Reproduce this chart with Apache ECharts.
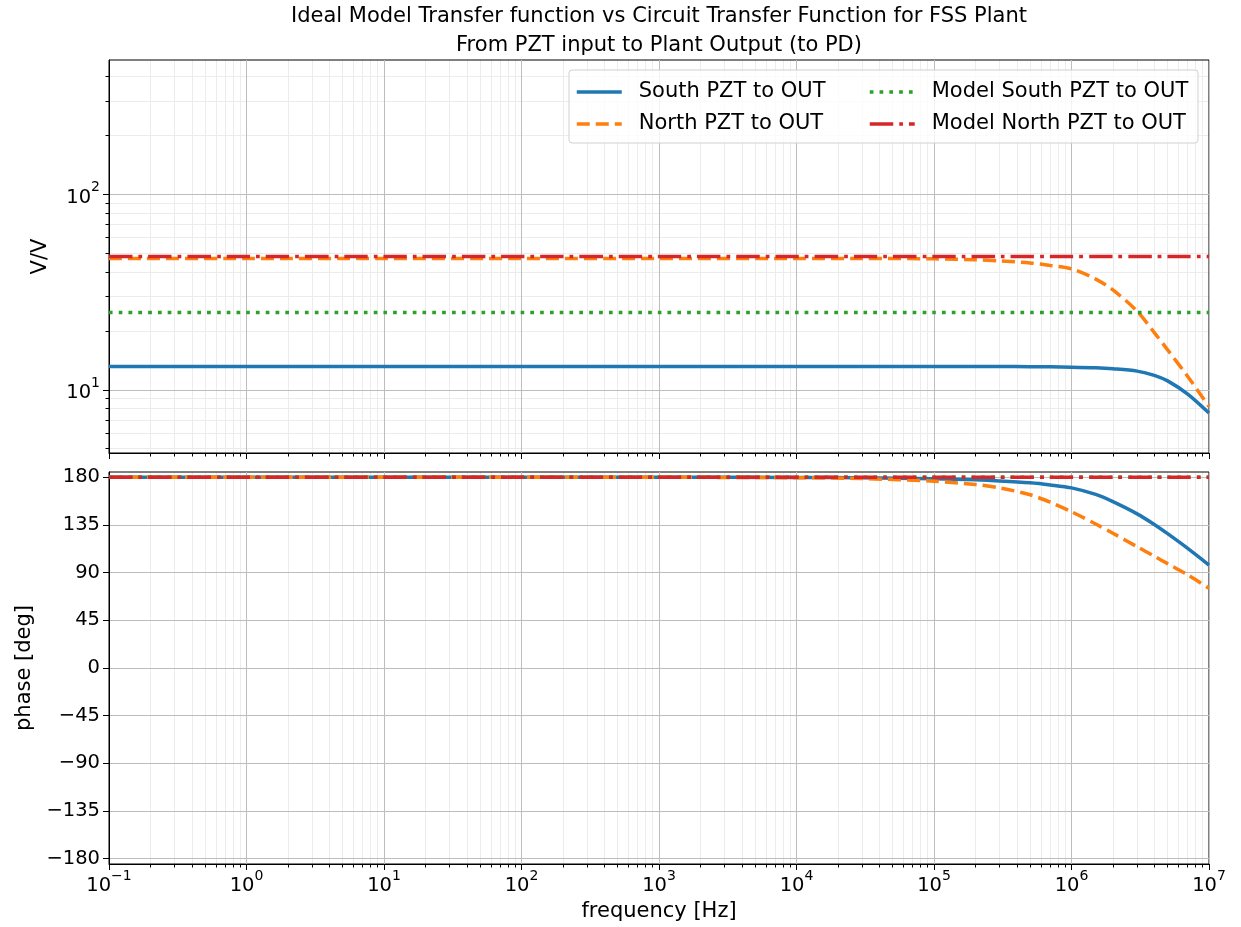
<!DOCTYPE html>
<html>
<head>
<meta charset="utf-8">
<script src="https://cdn.jsdelivr.net/npm/echarts@6/dist/echarts.min.js"></script>
<style>
html, body { margin: 0; padding: 0; background: #fff; }
#chart { width: 1241px; height: 927px; }
</style>
</head>
<body>
<div id="chart"></div>
<script>
// frequency points [Hz]
const freq = [0.1, 1, 10, 100, 1e3, 1e4, 3e4, 1e5, 2e5, 3e5, 5e5, 7e5, 1e6, 1.5e6, 2e6, 3e6, 4e6, 5e6, 7e6, 1e7]

// magnitude [V/V]
const southMag = [13.15, 13.15, 13.15, 13.15, 13.15, 13.15, 13.15, 13.15, 13.15, 13.14, 13.12, 13.1, 13.05, 12.95, 12.8, 12.45, 11.85, 11.1, 9.5, 7.6]
const northMag = [46.9, 46.9, 46.9, 46.9, 46.9, 46.9, 46.9, 46.7, 46.2, 45.6, 44.5, 43.2, 41.5, 36.8, 32.4, 25.2, 19.6, 16, 11.7, 8.2]
const modelSouthMag = [24.8, 24.8, 24.8, 24.8, 24.8, 24.8, 24.8, 24.8, 24.8, 24.8, 24.8, 24.8, 24.8, 24.8, 24.8, 24.8, 24.8, 24.8, 24.8, 24.8]
const modelNorthMag = [48, 48, 48, 48, 48, 48, 48, 48, 48, 48, 48, 48, 48, 48, 48, 48, 48, 48, 48, 48]

// phase [deg]
const southPhase = [180, 180, 180, 180, 180, 179.9, 179.6, 178.6, 177.6, 176.6, 174.8, 172.8, 170, 163.8, 157, 145.5, 135.5, 126.8, 112.9, 97.2]
const northPhase = [180, 180, 180, 180, 180, 179.6, 178.8, 176.3, 173.2, 170, 163.5, 156.5, 147.5, 135.9, 127.2, 114.5, 105.5, 98.5, 88, 75.2]
const modelSouthPhase = [180, 180, 180, 180, 180, 180, 180, 180, 180, 180, 180, 180, 180, 180, 180, 180, 180, 180, 180, 180]
const modelNorthPhase = [180, 180, 180, 180, 180, 180, 180, 180, 180, 180, 180, 180, 180, 180, 180, 180, 180, 180, 180, 180]

// tick values
const xMajor = [0.1, 1, 10, 100, 1e3, 1e4, 1e5, 1e6, 1e7]
const xMinor = []
for (let i = 0; i < xMajor.length - 1; i++) {
  for (let k = 2; k <= 9; k++) xMinor.push(xMajor[i] * k)
}
const magMajor = [10, 100]
const magMinor = [5, 6, 7, 8, 9, 20, 30, 40, 50, 60, 70, 80, 90, 200, 300, 400]
const phaseTicks = [-180, -135, -90, -45, 0, 45, 90, 135, 180]

const FONT = 'DejaVu Sans'
const names = ['South PZT to OUT', 'North PZT to OUT', 'Model South PZT to OUT', 'Model North PZT to OUT']
const colors = ['#1f77b4', '#ff7f0e', '#2ca02c', '#d62728']
const dashes = ['solid', [13, 6], [3.7, 6.1], [23.5, 6, 3.7, 6]]
const LW = 3.5
const TICK_FS = 19.5
const NAME_FS = 21

// 10^n 标签
function pow10Label(v) {
  const e = Math.round(Math.log10(v))
  return '{b|10}{s|' + (e < 0 ? '\u2212' + (-e) : e) + '}'
}
const powRich = {
  b: { fontSize: TICK_FS, fontFamily: FONT, color: '#000', padding: [7, 0, 0, 0] },
  s: { fontSize: 14, fontFamily: FONT, color: '#000', verticalAlign: 'top' }
}

const majorGrid = { show: true, lineStyle: { color: '#bdbdbd', width: 1 } }
const minorGrid = { show: true, lineStyle: { color: '#ececec', width: 1 } }
const axisLine = { show: true, onZero: false, lineStyle: { color: '#000', width: 1 } }
const nameStyle = { fontSize: NAME_FS, fontFamily: FONT, color: '#000' }

function xAxisPair(gridIndex, showLabels) {
  const major = {
    type: 'log', logBase: 10, gridIndex, position: 'bottom', min: 0.1, max: 1e7,
    axisLine,
    axisTick: { show: true, inside: false, length: 6, customValues: xMajor, lineStyle: { color: '#000' } },
    axisLabel: { show: showLabels, customValues: xMajor, formatter: pow10Label, rich: powRich, margin: 5 },
    splitLine: majorGrid
  }
  if (showLabels) {
    Object.assign(major, {
      name: 'frequency [Hz]', nameLocation: 'middle', nameGap: 37, nameTextStyle: nameStyle
    })
  }
  const minor = {
    type: 'log', logBase: 10, gridIndex, position: 'bottom', min: 0.1, max: 1e7,
    axisLine: { show: false, onZero: false },
    axisTick: { show: true, inside: false, length: 3.5, customValues: xMinor, lineStyle: { color: '#000' } },
    axisLabel: { show: false },
    splitLine: minorGrid,
    z: -1
  }
  return [major, minor]
}

const xAxis = [...xAxisPair(0, false), ...xAxisPair(1, true)]

const yAxis = [
  {
    type: 'log', logBase: 10, gridIndex: 0, position: 'left', min: 4.75, max: 485,
    name: 'V/V', nameLocation: 'middle', nameGap: 58, nameTextStyle: nameStyle,
    axisLine,
    axisTick: { show: true, length: 6, customValues: magMajor, lineStyle: { color: '#000' } },
    axisLabel: { customValues: magMajor, formatter: pow10Label, rich: powRich, margin: 9 },
    splitLine: majorGrid
  },
  {
    type: 'log', logBase: 10, gridIndex: 0, position: 'left', min: 4.75, max: 485,
    axisLine: { show: false, onZero: false },
    axisTick: { show: true, length: 3.5, customValues: magMinor, lineStyle: { color: '#000' } },
    axisLabel: { show: false },
    splitLine: minorGrid,
    z: -1
  },
  {
    type: 'value', gridIndex: 1, position: 'left', min: -185, max: 185,
    name: 'phase [deg]', nameLocation: 'middle', nameGap: 73, nameTextStyle: nameStyle,
    axisLine,
    axisTick: { show: true, length: 6, customValues: phaseTicks, lineStyle: { color: '#000' } },
    axisLabel: {
      customValues: phaseTicks, margin: 9, fontSize: TICK_FS, fontFamily: FONT, color: '#000',
      formatter: (v) => (v < 0 ? '\u2212' + (-v) : String(v))
    },
    splitLine: majorGrid
  }
]

function pairs(ys) {
  return freq.map((f, i) => [f, ys[i]])
}

function makeSeries(idx, ys, xIdx, yIdx) {
  return {
    type: 'line', name: names[idx], xAxisIndex: xIdx, yAxisIndex: yIdx,
    data: pairs(ys), symbol: 'none', smooth: 0.3, animation: false,
    lineStyle: { color: colors[idx], width: LW, type: dashes[idx], cap: 'butt' },
    itemStyle: { color: colors[idx] }
  }
}

const series = [
  makeSeries(0, southMag, 0, 0),
  makeSeries(1, northMag, 0, 0),
  makeSeries(2, modelSouthMag, 0, 0),
  makeSeries(3, modelNorthMag, 0, 0),
  makeSeries(0, southPhase, 2, 2),
  makeSeries(1, northPhase, 2, 2),
  makeSeries(2, modelSouthPhase, 2, 2),
  makeSeries(3, modelNorthPhase, 2, 2)
]

const legendBase = {
  orient: 'vertical', top: 80, padding: 0, itemWidth: 45, itemHeight: 14, itemGap: 8,
  textStyle: { fontSize: 21, fontFamily: FONT, color: '#000', lineHeight: 24, padding: [0, 0, 0, 12] },
  itemStyle: { opacity: 0 },
  lineStyle: { width: LW }
}

const chart = echarts.init(document.getElementById('chart'))
chart.setOption({
  backgroundColor: '#fff',
  animation: false,
  grid: [
    { left: 109, top: 60, width: 1100, height: 393, show: true, borderColor: '#000', borderWidth: 1, backgroundColor: 'transparent' },
    { left: 109, top: 472, width: 1100, height: 392, show: true, borderColor: '#000', borderWidth: 1, backgroundColor: 'transparent' }
  ],
  graphic: [
    {
      type: 'text', x: 659, y: 17, silent: true,
      style: { text: 'Ideal Model Transfer function vs Circuit Transfer Function for FSS Plant', font: '21px "DejaVu Sans"', fill: '#000', textAlign: 'center', textVerticalAlign: 'middle' }
    },
    {
      type: 'text', x: 659, y: 46, silent: true,
      style: { text: 'From PZT input to Plant Output (to PD)', font: '21px "DejaVu Sans"', fill: '#000', textAlign: 'center', textVerticalAlign: 'middle' }
    },
    {
      type: 'rect', z: 3, silent: true,
      shape: { x: 569, y: 70, width: 629, height: 73, r: 3 },
      style: { fill: 'rgba(255,255,255,0.8)', stroke: '#d0d0d0', lineWidth: 1 }
    }
  ],
  legend: [
    Object.assign({}, legendBase, { left: 575, data: [names[0], names[1]] }),
    Object.assign({}, legendBase, { left: 868, data: [names[2], names[3]] })
  ],
  xAxis,
  yAxis,
  series
})
</script>
</body>
</html>
